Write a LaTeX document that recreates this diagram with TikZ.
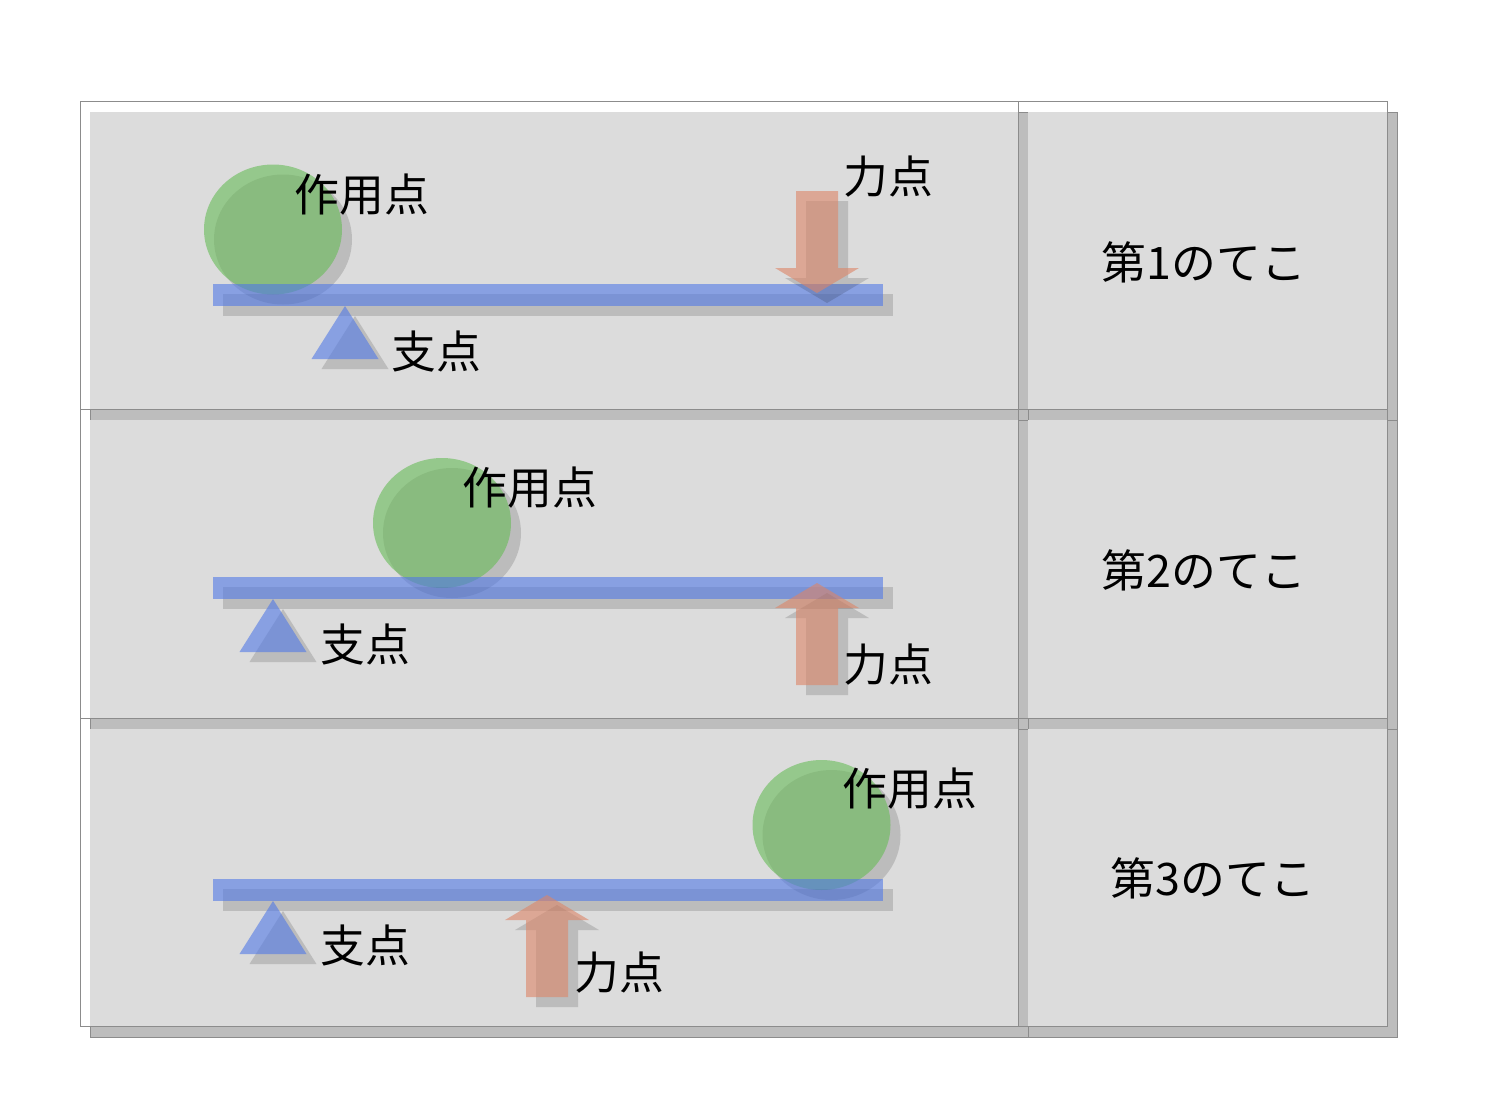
\documentclass[tikz,border=0pt]{standalone}
\usepackage{fontspec}
\newfontfamily\jpfont{Noto Sans CJK JP}
\definecolor{cellfill}{HTML}{DCDCDC}
\definecolor{cellshade}{HTML}{BDBDBD}
\definecolor{cellline}{HTML}{8C8C8C}
\definecolor{ballgreen}{RGB}{103,187,87}
\definecolor{beamblue}{RGB}{80,120,230}
\definecolor{pushred}{RGB}{220,133,103}
\tikzset{
	castshadow/.style={fill=black, fill opacity=0.14},
	ballfill/.style={fill=ballgreen, fill opacity=0.6},
	beamfill/.style={fill=beamblue, fill opacity=0.6},
	forcefill/.style={fill=pushred, fill opacity=0.6},
	lbl/.style={font=\jpfont\fontsize{25.5}{30}\selectfont, inner sep=0pt}
}
\def\tablecell(#1,#2)(#3,#4){%
	\draw[cellline, fill=cellshade, line width=0.5pt] (#1+10,#2+11) rectangle (#3+10,#4+11);
	\fill[cellfill] (#1+10,#2+11) rectangle (#3,#4);
	\draw[cellline, line width=0.5pt] (#1,#2) rectangle (#3,#4);}
\def\pusharrow[#1](#2,#3){\fill[#1] (#2,#3) -- ++(42,25) -- ++(-21,0) -- ++(0,77) -- ++(-42,0) -- ++(0,-77) -- ++(-21,0) -- cycle;}
\def\pressarrow[#1](#2,#3){\fill[#1] (#2,#3) -- ++(42,-25) -- ++(-21,0) -- ++(0,-77) -- ++(-42,0) -- ++(0,77) -- ++(-21,0) -- cycle;}
\def\fulcrum[#1](#2,#3){\fill[#1] (#2,#3) -- ++(33.5,53) -- ++(-67,0) -- cycle;}

\begin{document}
\begin{tikzpicture}[x=0.02cm, y=-0.02cm]
			%%%%% START %%%%%
			\useasboundingbox[fill=white] (0,0) rectangle (1488,1116);
			
			\tablecell(80,101)(1018,409);
			\tablecell(1018,101)(1387,409);
			\tablecell(80,409)(1018,718);
			\tablecell(1018,409)(1387,718);
			\tablecell(80,718)(1018,1026);
			\tablecell(1018,718)(1387,1026);
			
			% first lever
			\fill[castshadow] (283,239.5) ellipse [x radius=69, y radius=65];
			\fill[ballfill] (273,229.5) ellipse [x radius=69, y radius=65];
			\fill[castshadow] (223,294) rectangle (893,316);
			\fill[beamfill] (213,284) rectangle (883,306);
			\fulcrum[castshadow](355,316);
			\fulcrum[beamfill](345,306);
			\pressarrow[castshadow](827,303);
			\pressarrow[forcefill](817,293);
			
			\node[lbl] (load1) at (362,195) {作用点};
			\node[lbl] (pivot1) at (436,352) {支点};
			\node[lbl] (effort1) at (888,177) {力点};
			\node[lbl] (kind1) at (1204,262) {第1のてこ};
			
			% second lever
			\fill[castshadow] (452,533) ellipse [x radius=69, y radius=65];
			\fill[ballfill] (442,523) ellipse [x radius=69, y radius=65];
			\fill[castshadow] (223,587) rectangle (893,609);
			\fill[beamfill] (213,577) rectangle (883,599);
			\fulcrum[castshadow](283,609);
			\fulcrum[beamfill](273,599);
			\pusharrow[castshadow](827,593);
			\pusharrow[forcefill](817,583);
			
			\node[lbl] (load2) at (530,488) {作用点};
			\node[lbl] (pivot2) at (365,645) {支点};
			\node[lbl] (effort2) at (888,665) {力点};
			\node[lbl] (kind2) at (1204,570) {第2のてこ};
			
			% third lever
			\fill[castshadow] (831.5,835) ellipse [x radius=69, y radius=65];
			\fill[ballfill] (821.5,825) ellipse [x radius=69, y radius=65];
			\fill[castshadow] (223,889) rectangle (893,911);
			\fill[beamfill] (213,879) rectangle (883,901);
			\fulcrum[castshadow](283,911);
			\fulcrum[beamfill](273,901);
			\pusharrow[castshadow](557,905);
			\pusharrow[forcefill](547,895);
			
			\node[lbl] (load3) at (910,789) {作用点};
			\node[lbl] (pivot3) at (365,946) {支点};
			\node[lbl] (effort3) at (619,973) {力点};
			\node[lbl] (kind3) at (1213,878) {第3のてこ};
			
			%%%%% END %%%%%
\end{tikzpicture}
\end{document}
